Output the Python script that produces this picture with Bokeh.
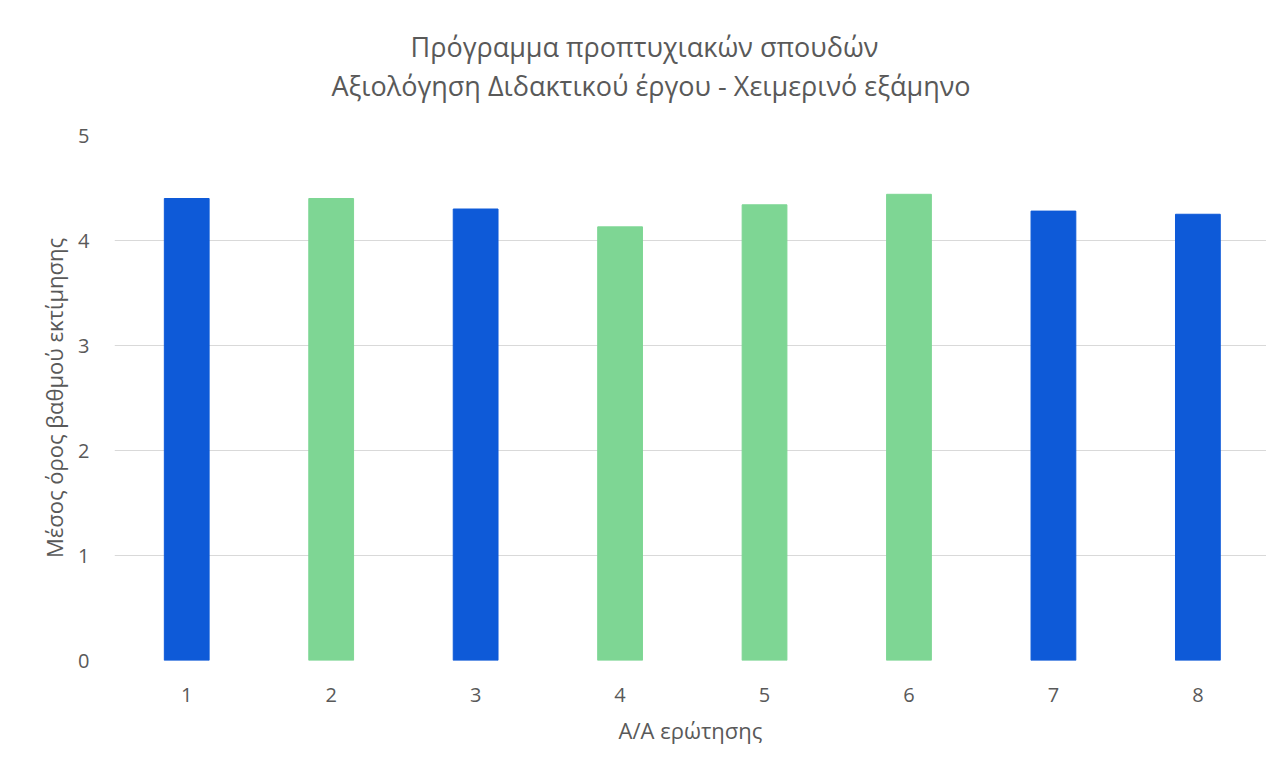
from bokeh.plotting import figure
from bokeh.models import Range1d, Title, FixedTicker, ColumnDataSource
from bokeh.embed import file_html
from bokeh.resources import INLINE

questions = [1, 2, 3, 4, 5, 6, 7, 8]
means = [4.40, 4.40, 4.30, 4.13, 4.34, 4.44, 4.28, 4.25]
bar_colors = ["#0e5ad8", "#7ed694", "#0e5ad8", "#7ed694",
              "#7ed694", "#7ed694", "#0e5ad8", "#0e5ad8"]
y_ticks = [0, 1, 2, 3, 4, 5]
title_lines = ["Πρόγραμμα προπτυχιακών σπουδών",
               "Αξιολόγηση Διδακτικού έργου - Χειμερινό εξάμηνο"]

FONT = "Open Sans"
GRAY = "#595959"

W, H = 1266, 752
LEFT, TOP, BOTTOM = 114, 135, 92
X0, X1 = 0.5, 8.475
Y0, Y1 = 0, 5

p = figure(width=W, height=H, output_backend="svg", toolbar_location=None,
           x_range=Range1d(X0, X1), y_range=Range1d(Y0, Y1),
           min_border_left=LEFT, min_border_right=0,
           min_border_top=TOP, min_border_bottom=BOTTOM)

src = ColumnDataSource(dict(x=questions, top=means, color=bar_colors))
p.vbar(x="x", top="top", width=0.31, color="color", source=src)

p.outline_line_color = None
p.border_fill_color = "white"
p.background_fill_color = "white"

p.xgrid.grid_line_color = None
p.ygrid.grid_line_color = "#d9d9d9"
p.ygrid.grid_line_width = 1
p.ygrid.ticker = FixedTicker(ticks=y_ticks)

for ax in (p.xaxis[0], p.yaxis[0]):
    ax.axis_line_color = None
    ax.major_tick_line_color = None
    ax.minor_tick_line_color = None
    ax.major_label_text_font = FONT
    ax.major_label_text_color = GRAY
    ax.major_label_text_font_size = "20px"
    ax.axis_label_text_font = FONT
    ax.axis_label_text_color = GRAY
    ax.axis_label_text_font_size = "22px"
    ax.axis_label_text_font_style = "normal"

p.xaxis.ticker = FixedTicker(ticks=questions)
p.yaxis.ticker = FixedTicker(ticks=y_ticks)
p.xaxis.major_label_standoff = 21
p.yaxis.major_label_standoff = 19
p.xaxis.axis_label = "Α/Α ερώτησης"
p.yaxis.axis_label = "Μέσος όρος βαθμού εκτίμησης"
p.xaxis.axis_label_standoff = 10
p.yaxis.axis_label_standoff = 6

t2 = Title(text=title_lines[1], align="left", offset=217,
           text_font=FONT, text_font_size="27px", text_color=GRAY,
           text_font_style="normal", standoff=64)
t1 = Title(text=title_lines[0], align="left", offset=296,
           text_font=FONT, text_font_size="27px", text_color=GRAY,
           text_font_style="normal", standoff=-64)
p.add_layout(t2, "above")
p.add_layout(t1, "above")

open("out.html", "w").write(file_html(p, INLINE))
